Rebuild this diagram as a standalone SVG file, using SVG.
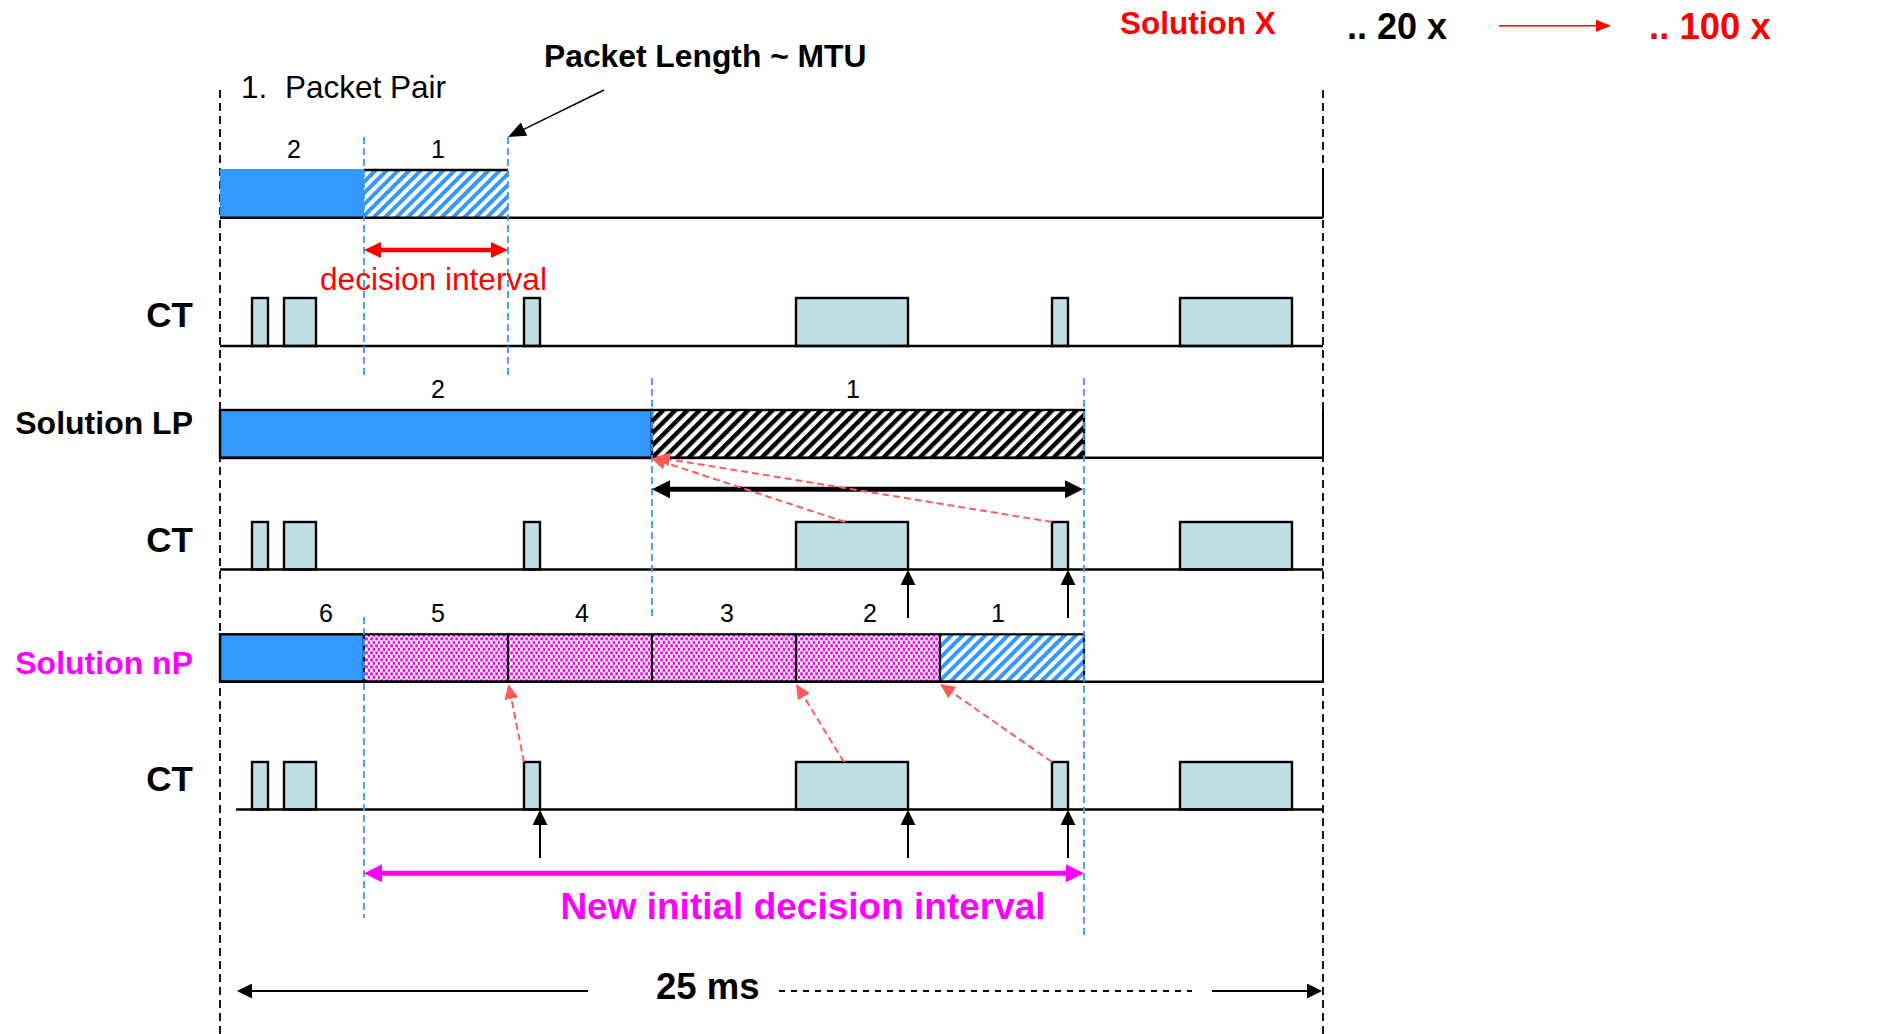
<svg xmlns="http://www.w3.org/2000/svg" width="1893" height="1034" viewBox="0 0 1893 1034">
<style>
text{font-family:"Liberation Sans",Arial,sans-serif;}
.b{font-weight:bold;}
.num{font-size:25px;text-anchor:middle;fill:#000;}
.lbl{font-size:35px;font-weight:bold;text-anchor:end;}
.sol{font-size:32px;font-weight:bold;text-anchor:end;}
.base{stroke:#000;stroke-width:2.6;fill:none;}
.ct{fill:#bde0e3;stroke:#000;stroke-width:2.4;}
.bdash{stroke:#000;stroke-width:1.8;stroke-dasharray:8,5;fill:none;}
.blue{stroke:#3399ff;stroke-width:1.8;stroke-dasharray:7,4;fill:none;}
.rdash{stroke:#ff5b5b;stroke-width:2;stroke-dasharray:7,4;fill:none;}
.up{stroke:#000;stroke-width:2;fill:none;}
</style>
<defs>
<pattern id="hb" patternUnits="userSpaceOnUse" width="8" height="8" patternTransform="rotate(45)"><rect width="8" height="8" fill="#fff"/><rect width="4" height="8" fill="#3399ff"/></pattern>
<pattern id="hk" patternUnits="userSpaceOnUse" width="8.6" height="8.6" patternTransform="rotate(45)"><rect width="8.6" height="8.6" fill="#fff"/><rect width="4.4" height="8.6" fill="#000"/></pattern>
<pattern id="pd" patternUnits="userSpaceOnUse" width="5" height="7"><rect width="5" height="7" fill="#fff"/><rect x="0.2" y="0.3" width="2.7" height="3.1" fill="#ff00ff"/><rect x="2.7" y="3.8" width="2.7" height="3.1" fill="#ff00ff"/></pattern>
<marker id="mr" markerUnits="userSpaceOnUse" markerWidth="17" markerHeight="16" refX="0" refY="8" orient="auto-start-reverse"><path d="M0,0L17,8L0,16z" fill="#ff0000"/></marker>
<marker id="mk" markerUnits="userSpaceOnUse" markerWidth="18" markerHeight="18" refX="0" refY="9" orient="auto-start-reverse"><path d="M0,0L18,9L0,18z" fill="#000"/></marker>
<marker id="mm" markerUnits="userSpaceOnUse" markerWidth="18" markerHeight="18" refX="0" refY="9" orient="auto-start-reverse"><path d="M0,0L18,9L0,18z" fill="#ff00ff"/></marker>
<marker id="ms" markerUnits="userSpaceOnUse" markerWidth="15" markerHeight="15" refX="0" refY="7.5" orient="auto-start-reverse"><path d="M0,0L15,7.5L0,15z" fill="#000"/></marker>
<marker id="mp" markerUnits="userSpaceOnUse" markerWidth="18" markerHeight="15" refX="0" refY="7.5" orient="auto"><path d="M0,0L18,7.5L0,15z" fill="#000"/></marker>
<marker id="md" markerUnits="userSpaceOnUse" markerWidth="15" markerHeight="14" refX="0" refY="7" orient="auto"><path d="M0,0L15,7L0,14z" fill="#ff5b5b"/></marker>
<marker id="mt" markerUnits="userSpaceOnUse" markerWidth="15" markerHeight="12" refX="0" refY="6" orient="auto"><path d="M0,0L15,6L0,12z" fill="#ff0000"/></marker>
</defs>
<rect width="1893" height="1034" fill="#fff"/>

<g id="header">
<text x="1120" y="34" class="b" font-size="31.5" fill="#ff0000">Solution X</text>
<text x="1347" y="39" class="b" font-size="36" fill="#000">.. 20 x</text>
<text x="1649" y="39" class="b" font-size="36.5" fill="#ff0000">.. 100 x</text>
<text x="544" y="67" class="b" font-size="31.8" fill="#000">Packet Length ~ MTU</text>
<text x="241" y="98" font-size="31.5" fill="#000">1.</text>
<text x="285" y="98" font-size="31.5" fill="#000">Packet Pair</text>
</g>

<g id="frame">
<line x1="220" y1="90" x2="220" y2="1034" class="bdash"/>
<line x1="1323" y1="90" x2="1323" y2="1034" class="bdash"/>
</g>

<g id="timeline-packet-pair">
<rect x="220" y="169" width="144" height="49" fill="#3399ff"/>
<rect x="364" y="170" width="144" height="48" fill="url(#hb)"/>
<line x1="364" y1="170" x2="508" y2="170" stroke="#000" stroke-width="2.4"/>
<line x1="1323" y1="169" x2="1323" y2="218" stroke="#000" stroke-width="2"/>
<line x1="220" y1="217.7" x2="1323" y2="217.7" class="base"/>
<text x="294" y="158" class="num">2</text>
<text x="438" y="158" class="num">1</text>
</g>

<g id="ct1">
<text x="193" y="327" class="lbl">CT</text>
<rect x="252" y="298" width="16" height="48" class="ct"/>
<rect x="284" y="298" width="32" height="48" class="ct"/>
<rect x="524" y="298" width="16" height="48" class="ct"/>
<rect x="796" y="298" width="112" height="48" class="ct"/>
<rect x="1052" y="298" width="16" height="48" class="ct"/>
<rect x="1180" y="298" width="112" height="48" class="ct"/>
<line x1="220" y1="346" x2="1323" y2="346" class="base"/>
</g>

<g id="timeline-solution-lp">
<text x="193" y="434" class="sol" fill="#000">Solution LP</text>
<rect x="220" y="410" width="432" height="48" fill="#3399ff" stroke="#000" stroke-width="2.4"/>
<rect x="652" y="410" width="432" height="48" fill="url(#hk)" stroke="#000" stroke-width="2.4"/>
<line x1="1323" y1="410" x2="1323" y2="458" stroke="#000" stroke-width="2"/>
<line x1="220" y1="457.7" x2="1323" y2="457.7" class="base"/>
<text x="438" y="398" class="num">2</text>
<text x="853" y="398" class="num">1</text>
</g>

<g id="ct2">
<text x="193" y="552" class="lbl">CT</text>
<rect x="252" y="522" width="16" height="47.5" class="ct"/>
<rect x="284" y="522" width="32" height="47.5" class="ct"/>
<rect x="524" y="522" width="16" height="47.5" class="ct"/>
<rect x="796" y="522" width="112" height="47.5" class="ct"/>
<rect x="1052" y="522" width="16" height="47.5" class="ct"/>
<rect x="1180" y="522" width="112" height="47.5" class="ct"/>
<line x1="220" y1="569.5" x2="1323" y2="569.5" class="base"/>
</g>

<g id="timeline-solution-np">
<text x="193" y="674" class="sol" fill="#ff00ff">Solution nP</text>
<rect x="220" y="634.3" width="144" height="47.4" fill="#3399ff" stroke="#000" stroke-width="2.4"/>
<rect x="364" y="634.3" width="144" height="47.4" fill="url(#pd)" stroke="#000" stroke-width="2.2"/>
<rect x="508" y="634.3" width="144" height="47.4" fill="url(#pd)" stroke="#000" stroke-width="2.2"/>
<rect x="652" y="634.3" width="144" height="47.4" fill="url(#pd)" stroke="#000" stroke-width="2.2"/>
<rect x="796" y="634.3" width="144" height="47.4" fill="url(#pd)" stroke="#000" stroke-width="2.2"/>
<rect x="940" y="634.3" width="144" height="47.4" fill="url(#hb)" stroke="#000" stroke-width="2.2"/>
<line x1="1323" y1="634" x2="1323" y2="682" stroke="#000" stroke-width="2"/>
<line x1="220" y1="681.7" x2="1323" y2="681.7" class="base"/>
<text x="326" y="622" class="num">6</text>
<text x="438" y="622" class="num">5</text>
<text x="582" y="622" class="num">4</text>
<text x="727" y="622" class="num">3</text>
<text x="870" y="622" class="num">2</text>
<text x="998" y="622" class="num">1</text>
</g>

<g id="ct3">
<text x="193" y="791" class="lbl">CT</text>
<rect x="252" y="762" width="16" height="47.5" class="ct"/>
<rect x="284" y="762" width="32" height="47.5" class="ct"/>
<rect x="524" y="762" width="16" height="47.5" class="ct"/>
<rect x="796" y="762" width="112" height="47.5" class="ct"/>
<rect x="1052" y="762" width="16" height="47.5" class="ct"/>
<rect x="1180" y="762" width="112" height="47.5" class="ct"/>
<line x1="236" y1="809.5" x2="1323" y2="809.5" class="base"/>
</g>

<g id="guides">
<line x1="364" y1="137" x2="364" y2="378" class="blue"/>
<line x1="508" y1="137" x2="508" y2="378" class="blue"/>
<line x1="652" y1="378" x2="652" y2="618" class="blue"/>
<line x1="1084" y1="378" x2="1084" y2="938" class="blue"/>
<line x1="364" y1="617" x2="364" y2="918" class="blue"/>
</g>

<g id="connectors">
<line x1="1499" y1="25.7" x2="1596" y2="25.7" stroke="#ff0000" stroke-width="1.6" marker-end="url(#mt)"/>
<line x1="604" y1="90" x2="524.2" y2="129.1" stroke="#000" stroke-width="1.6" marker-end="url(#mp)"/>
<line x1="381" y1="250" x2="491" y2="250" stroke="#ff0000" stroke-width="4.5" marker-start="url(#mr)" marker-end="url(#mr)"/>
<line x1="670" y1="489.3" x2="1065" y2="489.3" stroke="#000" stroke-width="5" marker-start="url(#mk)" marker-end="url(#mk)"/>
<line x1="382" y1="873.3" x2="1066" y2="873.3" stroke="#ff00ff" stroke-width="5" marker-start="url(#mm)" marker-end="url(#mm)"/>
<line x1="845" y1="522" x2="665.2" y2="462.7" class="rdash" marker-end="url(#md)"/>
<line x1="1052" y1="522" x2="669.8" y2="459.4" class="rdash" marker-end="url(#md)"/>
<line x1="524" y1="762" x2="511.4" y2="698.7" class="rdash" marker-end="url(#md)"/>
<line x1="844" y1="762" x2="803.9" y2="696.8" class="rdash" marker-end="url(#md)"/>
<line x1="1052" y1="762" x2="952.3" y2="692.6" class="rdash" marker-end="url(#md)"/>
<line x1="908" y1="618" x2="908" y2="585" class="up" marker-end="url(#ms)"/>
<line x1="1068" y1="618" x2="1068" y2="585" class="up" marker-end="url(#ms)"/>
<line x1="540" y1="858" x2="540" y2="825" class="up" marker-end="url(#ms)"/>
<line x1="908" y1="858" x2="908" y2="825" class="up" marker-end="url(#ms)"/>
<line x1="1068" y1="858" x2="1068" y2="825" class="up" marker-end="url(#ms)"/>
<line x1="588" y1="991" x2="252" y2="991" stroke="#000" stroke-width="2.2" marker-end="url(#ms)"/>
<line x1="779" y1="991" x2="1192" y2="991" stroke="#000" stroke-width="2" stroke-dasharray="6,6"/>
<line x1="1212" y1="991" x2="1307" y2="991" stroke="#000" stroke-width="2.2" marker-end="url(#ms)"/>
</g>

<g id="annotations">
<text x="320" y="290" font-size="31" fill="#ff0000" textLength="227" lengthAdjust="spacingAndGlyphs">decision interval</text>
<text x="803" y="919" class="b" font-size="37" fill="#ff00ff" text-anchor="middle">New initial decision interval</text>
<text x="656" y="999" class="b" font-size="36.5" fill="#000">25 ms</text>
</g>
</svg>
